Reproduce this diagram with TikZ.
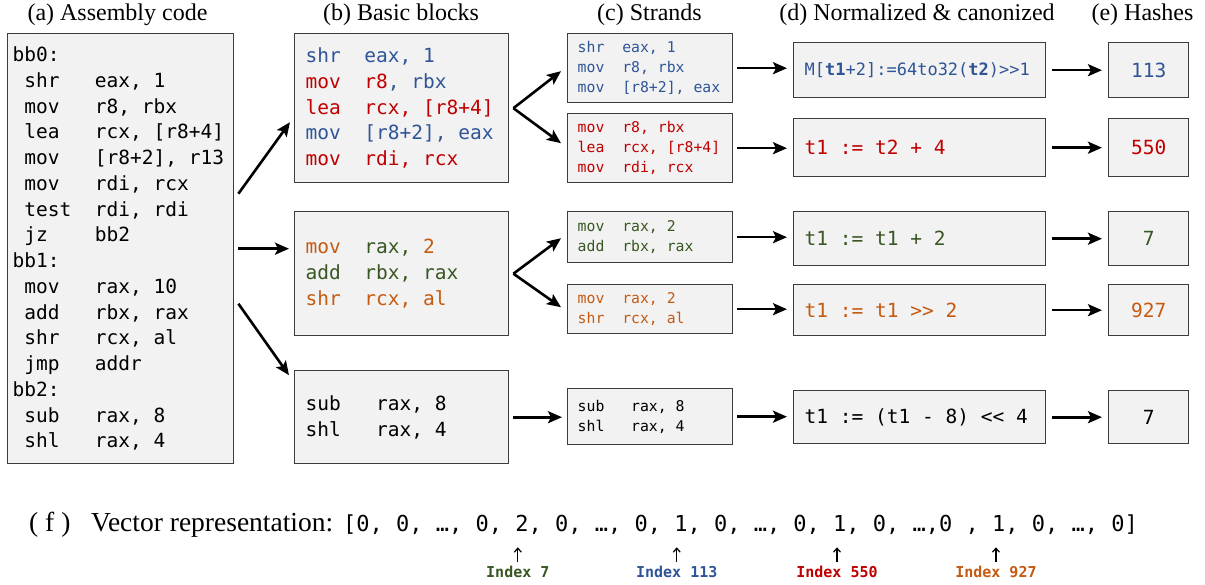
\documentclass[tikz,border=0pt]{standalone}
\usepackage{fontspec}
\setmainfont{Liberation Serif}
\setmonofont{DejaVu Sans Mono}
\usetikzlibrary{arrows.meta,calc,positioning}

\definecolor{blueS}{RGB}{47,85,151}
\definecolor{redS}{RGB}{192,0,0}
\definecolor{greenS}{RGB}{56,87,35}
\definecolor{orangeS}{RGB}{197,90,17}
\definecolor{boxfill}{RGB}{242,242,242}
\definecolor{boxline}{RGB}{60,60,60}

\begin{document}
\begin{tikzpicture}[
  x=1pt, y=-1pt,
  box/.style={draw=boxline, fill=boxfill, line width=1.4pt, anchor=north west, inner ysep=0pt, align=left,
    execute at begin node={\spaceskip=\fontcharwd\font`0\relax\xspaceskip=\spaceskip}},
  heading/.style={font=\fontsize{24}{28}\selectfont, inner sep=0pt},
  bigcode/.style={font=\fontsize{19.5}{25.75}\selectfont\ttfamily},
  smallcode/.style={font=\fontsize{14.8}{20}\selectfont\ttfamily},
  strand/.style={box, smallcode, inner xsep=10pt, text width=145pt},
  normbox/.style={box, bigcode, inner xsep=11pt, text width=230pt},
  hashbox/.style={box, bigcode, align=center, inner xsep=0pt, minimum width=80pt},
  flow/.style={-{Stealth[length=14pt,width=12pt,inset=3pt]}, line width=2.6pt},
  tick/.style={-{Straight Barb[length=4pt,width=7pt]}, line width=1.2pt},
  idx/.style={font=\fontsize{15}{18}\selectfont\ttfamily\bfseries, inner sep=1pt, anchor=base}
]
\path[use as bounding box, fill=white] (0,0) rectangle (1205,585);

% column headings
\node[heading] (ta) at (117.5,15) {(a) Assembly code};
\node[heading] (tb) at (401,15) {(b) Basic blocks};
\node[heading] (tc) at (649.5,15) {(c) Strands};
\node[heading] (td) at (917,15) {(d) Normalized \& canonized};
\node[heading] (te) at (1142.5,15) {(e) Hashes};

% (a) whole listing
\node[box, bigcode, inner xsep=5pt, text width=216pt, minimum height=430pt] (asm) at (7,33) {bb0:\\
~shr~~~eax, 1\\
~mov~~~r8, rbx\\
~lea~~~rcx, [r8+4]\\
~mov~~~[r8+2], r13\\
~mov~~~rdi, rcx\\
~test~~rdi, rdi\\
~jz~~~~bb2\\
bb1:\\
~mov~~~rax, 10\\
~add~~~rbx, rax\\
~shr~~~rcx, al\\
~jmp~~~addr\\
bb2:\\
~sub~~~rax, 8\\
~shl~~~rax, 4};

% (b) basic blocks
\node[box, bigcode, inner xsep=11pt, text width=192pt, minimum height=149pt] (bb0) at (294,33) {\textcolor{blueS}{shr~~eax, 1}\\
\textcolor{redS}{mov~~r8}\textcolor{blueS}{,~rbx}\\
\textcolor{redS}{lea~~rcx, [r8+4]}\\
\textcolor{blueS}{mov~~[r8+2], eax}\\
\textcolor{redS}{mov~~rdi, rcx}};
\node[box, bigcode, inner xsep=11pt, text width=192pt, minimum height=124pt] (bb1) at (294,211) {\textcolor{orangeS}{mov~~}\textcolor{greenS}{rax,~}\textcolor{orangeS}{2}\\
\textcolor{greenS}{add~~rbx, rax}\\
\textcolor{orangeS}{shr~~rcx, al}};
\node[box, bigcode, inner xsep=11pt, text width=192pt, minimum height=93pt] (bb2) at (294,370) {sub~~~rax, 8\\
shl~~~rax, 4};

% (c) strands
\node[strand, minimum height=69pt, text=blueS] (s1) at (567,33) {shr~~eax, 1\\ mov~~r8, rbx\\ mov~~[r8+2], eax};
\node[strand, minimum height=69pt, text=redS] (s2) at (567,113) {mov~~r8, rbx\\ lea~~rcx, [r8+4]\\ mov~~rdi, rcx};
\node[strand, minimum height=51pt, text=greenS] (s3) at (567,211) {mov~~rax, 2\\ add~~rbx, rax};
\node[strand, minimum height=49pt, text=orangeS] (s4) at (567,284) {mov~~rax, 2\\ shr~~rcx, al};
\node[strand, minimum height=56pt] (s5) at (567,388) {sub~~~rax, 8\\ shl~~~rax, 4};

% (d) normalized expressions
\node[normbox, minimum height=55pt, text=blueS, font=\fontsize{17}{20}\selectfont\ttfamily] (n1) at (793,42) {M[\textbf{t1}+2]:=64to32(\textbf{t2})>>1};
\node[normbox, minimum height=58pt, text=redS] (n2) at (793,118) {t1 := t2 + 4};
\node[normbox, minimum height=54pt, text=greenS] (n3) at (793,211) {t1 := t1 + 2};
\node[normbox, minimum height=51pt, text=orangeS] (n4) at (793,284) {t1 := t1 >> 2};
\node[normbox, minimum height=53pt] (n5) at (793,390) {t1 := (t1 - 8) << 4};

% (e) hash values
\node[hashbox, minimum height=55pt, text=blueS] (h1) at (1108,42) {113};
\node[hashbox, minimum height=58pt, text=redS] (h2) at (1108,118) {550};
\node[hashbox, minimum height=54pt, text=greenS] (h3) at (1108,211) {7};
\node[hashbox, minimum height=51pt, text=orangeS] (h4) at (1108,284) {927};
\node[hashbox, minimum height=53pt] (h5) at (1108,390) {7};

% listing -> blocks
\draw[flow] ($(asm.east)+(4,-55)$) -- ($(bb0.west)+(-4,14)$);
\draw[flow, shorten <=4pt, shorten >=5pt] (asm.east) -- (asm.east -| bb1.west);
\draw[flow] ($(asm.east)+(4,55)$) -- ($(bb2.west)+(-5,-42)$);

% blocks -> strands
\draw[flow] ($(bb0.east)+(4,0)$) -- ($(s1.west)+(-6,3)$);
\draw[flow] ($(bb0.east)+(4,0)$) -- ($(s2.west)+(-6,-5)$);
\draw[flow] ($(bb1.east)+(4,0)$) -- ($(s3.west)+(-6,1)$);
\draw[flow] ($(bb1.east)+(4,0)$) -- ($(s4.west)+(-6,-2)$);
\draw[flow, shorten <=4pt, shorten >=5pt] (bb2.east) -- (bb2.east -| s5.west);

% strands -> normalized -> hashes
\foreach \i in {1,...,5} {
  \draw[flow, shorten <=4pt, shorten >=6pt] (s\i.east) -- (s\i.east -| n\i.west);
  \draw[flow, shorten <=6pt, shorten >=6pt] (n\i.east) -- (h\i.west);
}

% (f) vector
\node[font=\fontsize{27.5}{32}\selectfont, inner sep=0pt, anchor=base west] (flab) at (29,531) {( f )};
\node[font=\fontsize{27.5}{32}\selectfont, inner sep=0pt, anchor=base west] (vlab) at (91,531) {Vector representation:};
\node[font=\fontsize{22}{26}\selectfont\ttfamily, inner sep=0pt, anchor=base west] (vec) at (343,531) {[0, 0, …, 0, 2, 0, …, 0, 1, 0, …, 0, 1, 0, …,0 , 1, 0, …, 0]};

\node[idx, text=greenS] (i7) at ($(vec.base west)+(13.2*13.244,46)$) {Index 7};
\node[idx, text=blueS] (i113) at ($(vec.base west)+(25.2*13.244,46)$) {Index 113};
\node[idx, text=redS] (i550) at ($(vec.base west)+(37.3*13.244,46)$) {Index 550};
\node[idx, text=orangeS] (i927) at ($(vec.base west)+(49.3*13.244,46)$) {Index 927};
\foreach \j in {i7,i113,i550,i927}
  \draw[tick, shorten <=2pt, shorten >=13pt] (\j.north) -- (\j.north |- vec.south);
\end{tikzpicture}
\end{document}
